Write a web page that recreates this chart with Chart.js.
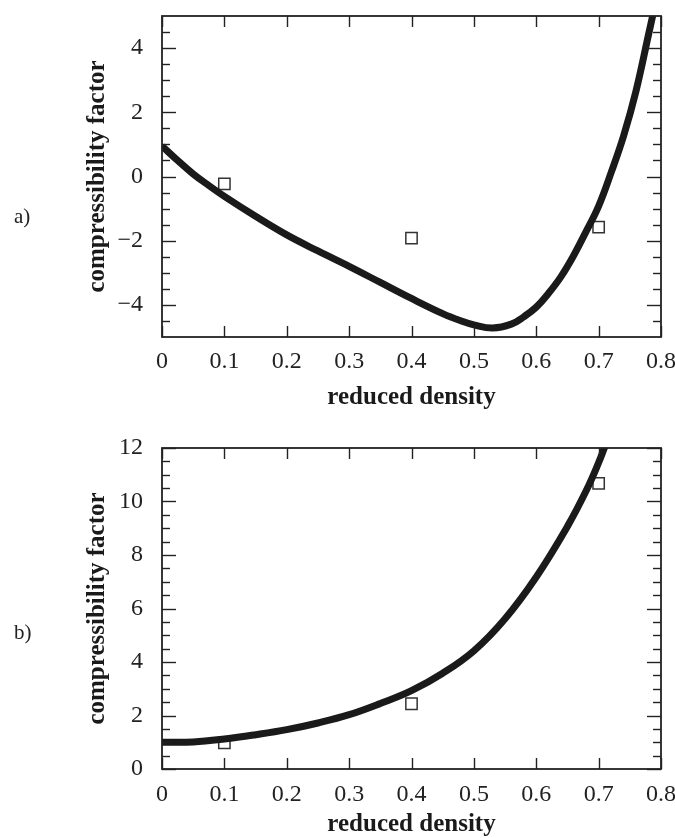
<!DOCTYPE html>
<html>
<head>
<meta charset="utf-8">
<script src="https://cdn.jsdelivr.net/npm/chart.js@4/dist/chart.umd.min.js"></script>
<style>
    body { margin: 0; background: #fff; }
    #page { position: relative; width: 675px; height: 838px; overflow: hidden; }
    canvas { position: absolute; left: 0; }
    .panel { position: absolute; left: 14px; font: 21px/21px "Liberation Serif", serif; color: #222; }
</style>
</head>
<body>
<div id="page">
    <canvas id="chartA" width="675" height="419" style="top:0"></canvas>
    <canvas id="chartB" width="675" height="419" style="top:419px"></canvas>
    <div class="panel" style="top:206px">a)</div>
    <div class="panel" style="top:622px">b)</div>
</div>
<script>
// x tick labels, shared by both panels
const densityTicks = [0, 0.1, 0.2, 0.3, 0.4, 0.5, 0.6, 0.7, 0.8];

// panel a) - curve
const densityA = [0, 0.025, 0.05, 0.075, 0.1, 0.15, 0.2, 0.25, 0.3, 0.35, 0.4, 0.45, 0.48, 0.5, 0.53, 0.56, 0.58, 0.6, 0.62, 0.64, 0.66, 0.68, 0.7, 0.72, 0.74, 0.76, 0.78, 0.79];
const zA = [0.95, 0.5, 0.08, -0.28, -0.62, -1.24, -1.82, -2.32, -2.8, -3.3, -3.8, -4.27, -4.5, -4.62, -4.72, -4.6, -4.37, -4.07, -3.63, -3.11, -2.46, -1.71, -0.92, 0.12, 1.26, 2.67, 4.42, 5.3];
const pointDensity = [0.1, 0.4, 0.7];
const pointZA = [-0.23, -1.92, -1.58];
const yLabelsA = [-4, -2, 0, 2, 4];
const yMinorA = [-4.5, -3.5, -3, -2.5, -1.5, -1, -0.5, 0.5, 1, 1.5, 2.5, 3, 3.5, 4.5];

// panel b)
const densityB = [0, 0.05, 0.1, 0.15, 0.2, 0.25, 0.3, 0.35, 0.4, 0.45, 0.5, 0.55, 0.6, 0.65, 0.68, 0.7, 0.71];
const zB = [1.0, 1.01, 1.12, 1.28, 1.47, 1.72, 2.03, 2.45, 2.93, 3.58, 4.42, 5.62, 7.18, 9.07, 10.4, 11.45, 12.05];
const pointZB = [0.98, 2.44, 10.68];
const yLabelsB = [0, 2, 4, 6, 8, 10, 12];
const yMinorB = [0.5, 1, 1.5, 2.5, 3, 3.5, 4.5, 5, 5.5, 6.5, 7, 7.5, 8.5, 9, 9.5, 10.5, 11, 11.5];

// box round the plot with inward ticks on all four sides
const frameTicks = {
    id: 'frameTicks',
    afterDatasetsDraw(chart, args, opts) {
        const ctx = chart.ctx;
        const a = chart.chartArea;
        const x = chart.scales.x, y = chart.scales.y;
        ctx.save();
        ctx.strokeStyle = '#222';
        ctx.lineWidth = 1.4;
        function line(x1, y1, x2, y2) {
            ctx.beginPath(); ctx.moveTo(x1, y1); ctx.lineTo(x2, y2); ctx.stroke();
        }
        opts.xTicks.forEach(function(v) {
            const px = Math.round(x.getPixelForValue(v)) + 0.5;
            line(px, a.bottom, px, a.bottom - 11);
            line(px, a.top, px, a.top + 11);
        });
        opts.yMajor.forEach(function(v) {
            const py = Math.round(y.getPixelForValue(v)) + 0.5;
            line(a.left, py, a.left + 14, py);
            line(a.right, py, a.right - 14, py);
        });
        opts.yMinor.forEach(function(v) {
            const py = Math.round(y.getPixelForValue(v)) + 0.5;
            line(a.left, py, a.left + 8, py);
            line(a.right, py, a.right - 8, py);
        });
        ctx.lineWidth = 1.8;
        ctx.strokeRect(a.left, a.top, a.right - a.left, a.bottom - a.top);
        ctx.restore();
    }
};

function makeChart(canvasId, curveX, curveY, pointsY, yMin, yMax, yLabels, yMinor, box) {
    new Chart(document.getElementById(canvasId), {
        type: 'line',
        data: {
            datasets: [{
                data: curveX.map((d, i) => ({x: d, y: curveY[i]})),
                borderColor: '#1a1a1a',
                borderWidth: 7,
                pointRadius: 0,
                tension: 0.4,
                fill: false
            }, {
                data: pointDensity.map((d, i) => ({x: d, y: pointsY[i]})),
                showLine: false,
                pointStyle: 'rect',
                pointRadius: 8,
                pointBorderWidth: 1.5,
                pointBorderColor: '#333',
                pointBackgroundColor: 'rgba(0,0,0,0)'
            }]
        },
        options: {
            responsive: false,
            animation: false,
            layout: { padding: { top: box.top, right: 14, left: 0, bottom: 0 } },
            plugins: {
                legend: { display: false },
                tooltip: { enabled: false },
                frameTicks: { xTicks: densityTicks, yMajor: yLabels, yMinor: yMinor }
            },
            scales: {
                x: {
                    type: 'linear',
                    min: 0,
                    max: 0.8,
                    grid: { display: false },
                    border: { display: false },
                    afterBuildTicks: s => { s.ticks = densityTicks.map(v => ({value: v})); },
                    afterFit: s => { s.height = box.xHeight; s.paddingLeft = 0; s.paddingRight = 0; },
                    ticks: {
                        padding: box.xPad,
                        color: '#222',
                        maxRotation: 0,
                        autoSkip: false,
                        font: { family: '"Liberation Serif", serif', size: 24, lineHeight: 1 },
                        callback: v => v === 0 ? '0' : v.toFixed(1)
                    },
                    title: {
                        display: true,
                        text: 'reduced density',
                        color: '#1a1a1a',
                        padding: { top: 0, bottom: box.titlePad },
                        font: { family: '"Liberation Serif", serif', size: 25, weight: 'bold', lineHeight: 1 }
                    }
                },
                y: {
                    min: yMin,
                    max: yMax,
                    grid: { display: false },
                    border: { display: false },
                    afterBuildTicks: s => { s.ticks = yLabels.map(v => ({value: v})); },
                    afterFit: s => { s.width = 162; s.paddingTop = 0; s.paddingBottom = 0; },
                    ticks: {
                        padding: 11,
                        color: '#222',
                        autoSkip: false,
                        font: { family: '"Liberation Serif", serif', size: 24, lineHeight: 1 },
                        callback: v => v < 0 ? '\u2212' + Math.abs(v) : String(v)
                    },
                    title: {
                        display: true,
                        text: 'compressibility factor',
                        color: '#1a1a1a',
                        padding: { top: 85.5, bottom: 0 },
                        font: { family: '"Liberation Serif", serif', size: 25, weight: 'bold', lineHeight: 1 }
                    }
                }
            }
        },
        plugins: [frameTicks]
    });
}

makeChart('chartA', densityA, zA, pointZA, -5, 5, yLabelsA, yMinorA,
    { top: 16, xHeight: 82, xPad: 5, titlePad: 8.5 });
makeChart('chartB', densityB, zB, pointZB, 0, 12, yLabelsB, yMinorB,
    { top: 29, xHeight: 69, xPad: 6, titlePad: 0.5 });
</script>
</body>
</html>
